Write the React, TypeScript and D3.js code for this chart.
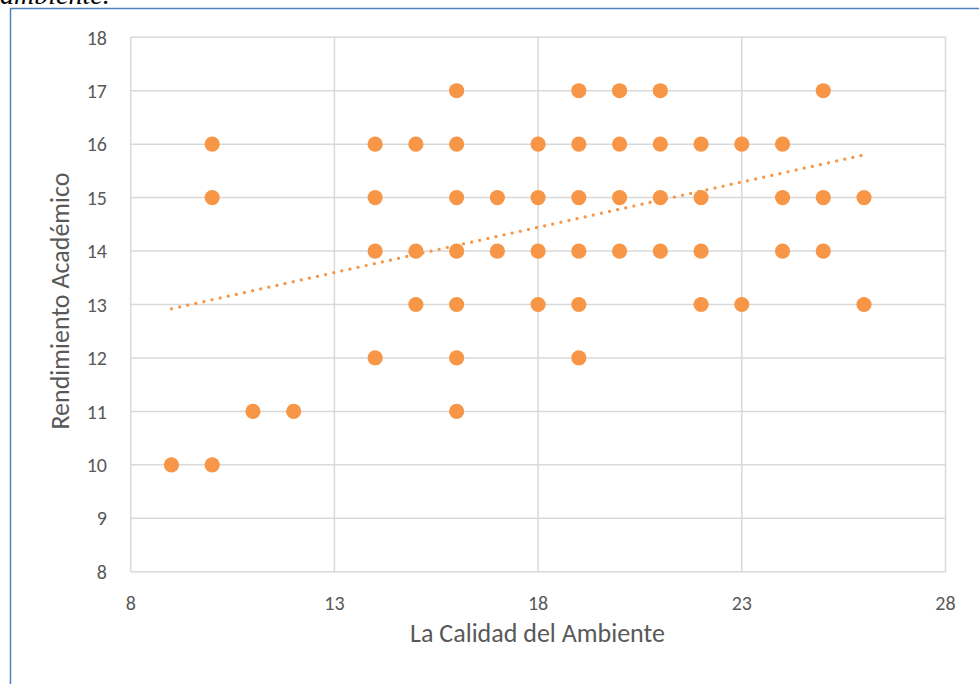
import React, { useEffect, useRef } from 'react';
import * as d3 from 'd3';

// Scatter of "La Calidad del Ambiente" vs "Rendimiento Académico"
const calidad = [
  16, 19, 20, 21, 25,
  10, 14, 15, 16, 18, 19, 20, 21, 22, 23, 24,
  10, 14, 16, 17, 18, 19, 20, 21, 22, 24, 25, 26,
  14, 15, 16, 17, 18, 19, 20, 21, 22, 24, 25,
  15, 16, 18, 19, 22, 23, 26,
  14, 16, 19,
  11, 12, 16,
  9, 10,
];
const rendimiento = [
  17, 17, 17, 17, 17,
  16, 16, 16, 16, 16, 16, 16, 16, 16, 16, 16,
  15, 15, 15, 15, 15, 15, 15, 15, 15, 15, 15, 15,
  14, 14, 14, 14, 14, 14, 14, 14, 14, 14, 14,
  13, 13, 13, 13, 13, 13, 13,
  12, 12, 12,
  11, 11, 11,
  10, 10,
];
// linear trendline, read at its two ends
const trendX = [9, 26];
const trendY = [12.92, 15.8];

const xTicks = [8, 13, 18, 23, 28];
const yTicks = [8, 9, 10, 11, 12, 13, 14, 15, 16, 17, 18];

const W = 979;
const H = 684;
const ORANGE = '#f79646';
const GRID = '#d9d9d9';
const TEXT = '#595959';
const FONT = 'Carlito, Calibri, Lato, sans-serif';

export default function App() {
  const ref = useRef<SVGSVGElement | null>(null);

  useEffect(() => {
    const svg = d3.select(ref.current);
    svg.selectAll('*').remove();

    const x = d3.scaleLinear().domain([8, 28]).range([130.7, 945.5]);
    const y = d3.scaleLinear().domain([8, 18]).range([571.7, 37.3]);

    svg.append('rect').attr('width', W).attr('height', H).attr('fill', '#fff');

    // caption cut off at the top of the page
    svg
      .append('text')
      .attr('x', 0)
      .attr('y', 4)
      .attr('font-family', '"Liberation Serif", serif')
      .attr('font-style', 'italic')
      .attr('font-size', 28)
      .attr('fill', '#000')
      .text('ambiente.');

    // chart frame
    svg
      .append('path')
      .attr('d', `M10.5,${H + 2}V8.5H${W + 2}`)
      .attr('fill', 'none')
      .attr('stroke', '#4f81bd')
      .attr('stroke-width', 1.5);

    // gridlines
    const grid = svg.append('g').attr('stroke', GRID).attr('stroke-width', 1.5);
    grid
      .selectAll('line.h')
      .data(yTicks)
      .join('line')
      .attr('class', 'h')
      .attr('x1', x(8))
      .attr('x2', x(28))
      .attr('y1', (d) => y(d))
      .attr('y2', (d) => y(d));
    grid
      .selectAll('line.v')
      .data(xTicks)
      .join('line')
      .attr('class', 'v')
      .attr('x1', (d) => x(d))
      .attr('x2', (d) => x(d))
      .attr('y1', y(8))
      .attr('y2', y(18));

    // tick labels
    svg
      .append('g')
      .selectAll('text')
      .data(yTicks)
      .join('text')
      .attr('x', 107)
      .attr('y', (d) => y(d))
      .attr('dy', '0.36em')
      .attr('text-anchor', 'end')
      .attr('font-family', FONT)
      .attr('font-size', 20)
      .attr('fill', TEXT)
      .text((d) => d);
    svg
      .append('g')
      .selectAll('text')
      .data(xTicks)
      .join('text')
      .attr('x', (d) => x(d))
      .attr('y', 610)
      .attr('text-anchor', 'middle')
      .attr('font-family', FONT)
      .attr('font-size', 20)
      .attr('fill', TEXT)
      .text((d) => d);

    // axis titles
    svg
      .append('text')
      .attr('x', 537.5)
      .attr('y', 641.5)
      .attr('text-anchor', 'middle')
      .attr('font-family', FONT)
      .attr('font-size', 26)
      .attr('fill', TEXT)
      .text('La Calidad del Ambiente');
    svg
      .append('text')
      .attr('transform', 'translate(69,301) rotate(-90)')
      .attr('text-anchor', 'middle')
      .attr('font-family', FONT)
      .attr('font-size', 26)
      .attr('fill', TEXT)
      .text('Rendimiento Académico');

    // dotted trendline (sits under the markers)
    const line = d3
      .line<[number, number]>()
      .x((d) => x(d[0]))
      .y((d) => y(d[1]));
    svg
      .append('path')
      .attr('d', line(d3.zip(trendX, trendY) as [number, number][]))
      .attr('fill', 'none')
      .attr('stroke', ORANGE)
      .attr('stroke-width', 3.2)
      .attr('stroke-linecap', 'round')
      .attr('stroke-dasharray', '0.01 8.3');

    // points
    const pts = d3.zip(calidad, rendimiento);
    svg
      .append('g')
      .selectAll('circle')
      .data(pts)
      .join('circle')
      .attr('cx', (d) => x(d[0]))
      .attr('cy', (d) => y(d[1]))
      .attr('r', 7.6)
      .attr('fill', ORANGE);
  }, []);

  return (
    <svg
      ref={ref}
      width={W}
      height={H}
      viewBox={`0 0 ${W} ${H}`}
      style={{ position: 'absolute', left: 0, top: 0, display: 'block' }}
    />
  );
}
